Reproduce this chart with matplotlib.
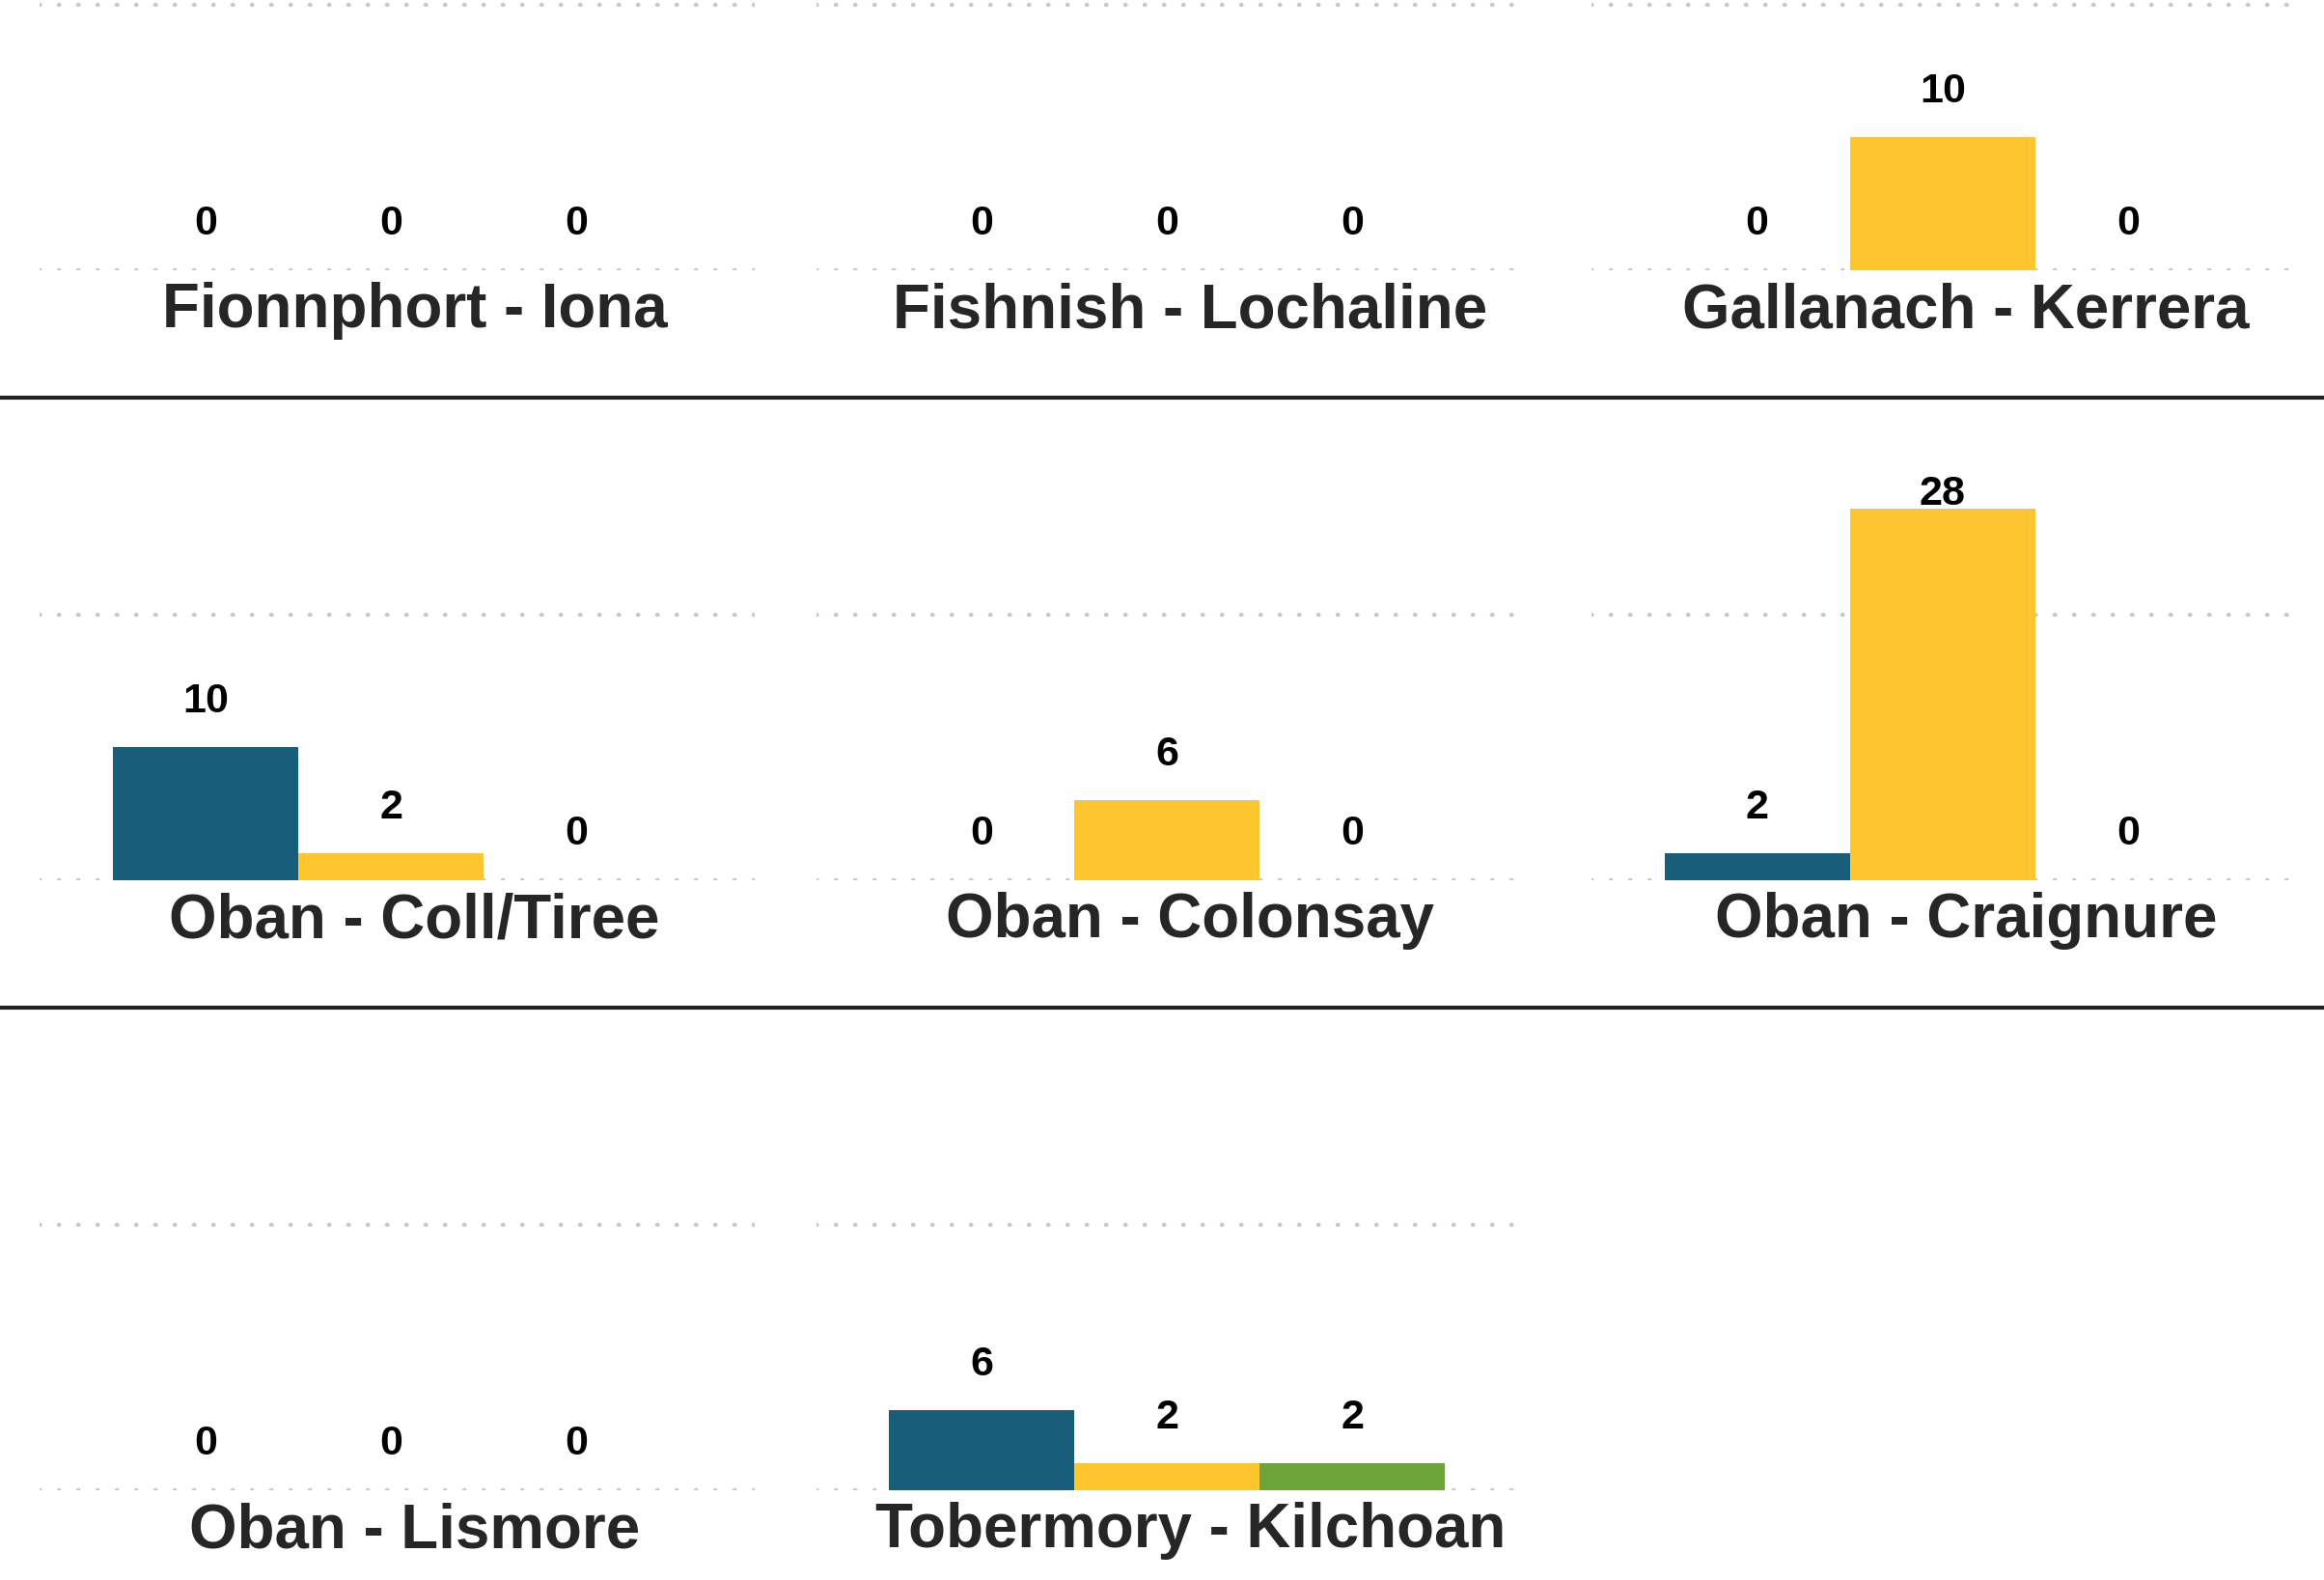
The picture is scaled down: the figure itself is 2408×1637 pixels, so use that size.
import matplotlib
matplotlib.use('Agg')
import matplotlib.pyplot as plt
from matplotlib.lines import Line2D

# данные: три серии на каждую переправу
routes = [
    'Fionnphort - Iona', 'Fishnish - Lochaline', 'Gallanach - Kerrera',
    'Oban - Coll/Tiree', 'Oban - Colonsay', 'Oban - Craignure',
    'Oban - Lismore', 'Tobermory - Kilchoan',
]
blue_vals = [0, 0, 0, 10, 0, 2, 0, 6]
yellow_vals = [0, 0, 10, 2, 6, 28, 0, 2]
green_vals = [0, 0, 0, 0, 0, 0, 0, 2]
y_gridlines = [0, 20]

colors = ['#185D7A', '#FDC62E', '#6CA53A']

W, H, DPI = 2408, 1637, 200
PANEL_LEFT = [41.5, 845.5, 1649]      # px
PANEL_W = 740
BASELINE = [279.5, 911.5, 1543.5]     # px from top
PX_PER_UNIT = 13.73
YMAX = 30.5
XLIM = (-0.893, 2.958)
SEPARATORS = [411.7, 1043.5]

plt.rcParams['font.family'] = ['Liberation Sans', 'DejaVu Sans']

fig = plt.figure(figsize=(W / DPI, H / DPI), dpi=DPI)
fig.patch.set_facecolor('white')

for i, route in enumerate(routes):
    row, col = divmod(i, 3)
    left = PANEL_LEFT[col] / W
    bottom = (H - BASELINE[row]) / H
    height = YMAX * PX_PER_UNIT / H
    ax = fig.add_axes([left, bottom, PANEL_W / W, height])
    ax.set_xlim(*XLIM)
    ax.set_ylim(0, YMAX)
    ax.axis('off')

    for g in y_gridlines:
        ax.axhline(g, color='#c8c8c8', lw=1.6, linestyle=(0, (0.1, 4.4)),
                   dash_capstyle='round', zorder=0)

    vals = [blue_vals[i], yellow_vals[i], green_vals[i]]
    ax.bar(range(3), vals, width=1.0, color=colors, zorder=2)
    for x, v in enumerate(vals):
        ax.text(x, min(v + 2.65, 28.3), str(v), ha='center', va='baseline',
                fontsize=15.5, fontweight='bold', color='black', zorder=3)

    fig.text((PANEL_LEFT[col] + 388) / W, (H - BASELINE[row] - 60) / H, route,
             ha='center', va='baseline', fontsize=22.9, fontweight='bold',
             color='#262626')

for y in SEPARATORS:
    fig.add_artist(Line2D([0, 1], [1 - y / H, 1 - y / H], transform=fig.transFigure,
                          color='#222222', lw=1.5))

fig.savefig('out.png', dpi=DPI)
